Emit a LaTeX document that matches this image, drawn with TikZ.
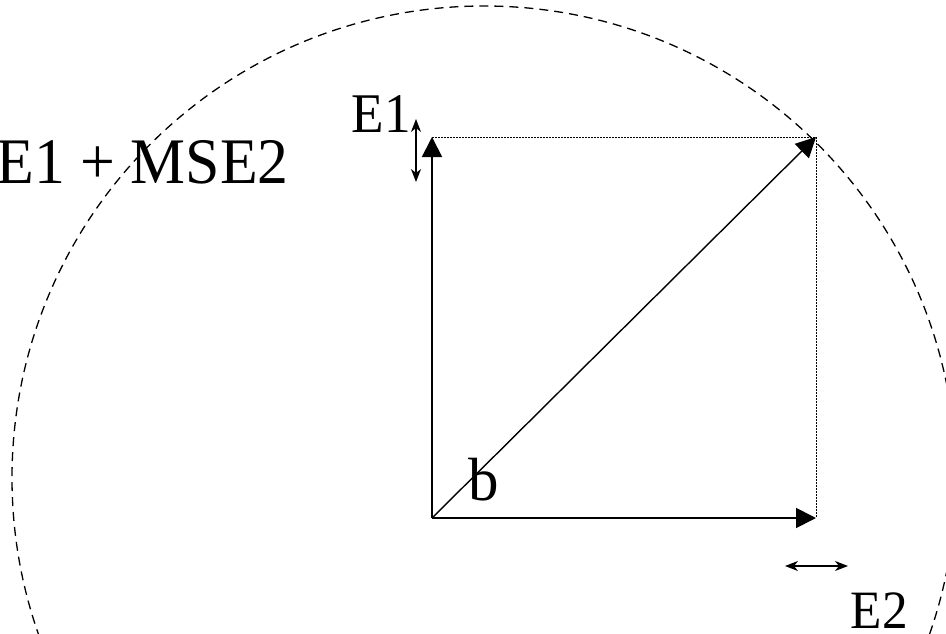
\documentclass[tikz,border=0pt]{standalone}
\usepackage{fontspec}
\setmainfont{Liberation Serif}
\usetikzlibrary{arrows.meta,positioning}
\tikzset{
  vec/.style={line width=1.8pt, -{Triangle[length=20pt,width=20pt]}},
  guide/.style={line width=1pt, dash pattern=on 1.5pt off 1.5pt},
  bound/.style={line width=1.3pt, dash pattern=on 9pt off 6pt},
  err/.style={line width=1.3pt, {Stealth[length=13pt,width=10pt,inset=4pt]}-{Stealth[length=13pt,width=10pt,inset=4pt]}},
  lbl/.style={inner sep=0pt}
}
\begin{document}
\begin{tikzpicture}[x=1pt,y=-1pt]
  \useasboundingbox (0,0) rectangle (946,634);
  \fill[white] (0,0) rectangle (946,634);

  \coordinate (c) at (484,478);
  \draw[bound] (c) circle (472);

  \coordinate (o) at (432,518);
  \coordinate (t1) at (432,137);
  \coordinate (t2) at (816,518);
  \coordinate (p) at (816,137);

  \draw[guide] (t1) -- (p) -- (t2);
  \draw[vec] (o) -- (t1);
  \draw[vec] (o) -- (t2);
  \draw[vec, line width=1.4pt] (o) -- (p);

  \coordinate (e1a) at (416,119);
  \coordinate (e1b) at (416,182);
  \draw[err] (e1a) -- (e1b);
  \coordinate (e2a) at (785,566);
  \coordinate (e2b) at (848,566);
  \draw[err] (e2a) -- (e2b);

  \node[lbl, anchor=base east, font=\fontsize{56}{60}\selectfont] (e1) at (411,132) {\scalebox{0.95}[1]{E1}};
  \node[lbl, anchor=base east, font=\fontsize{54}{58}\selectfont] (e2) at (908,628) {\scalebox{0.95}[1]{E2}};
  \node[lbl, anchor=base east, font=\fontsize{65}{70}\selectfont] (mse) at (289,183) {\scalebox{0.95}[1]{MSE1 + MSE2}};
  \node[lbl, anchor=base west, font=\fontsize{61}{66}\selectfont] (b) at (468,500) {b};
\end{tikzpicture}
\end{document}
